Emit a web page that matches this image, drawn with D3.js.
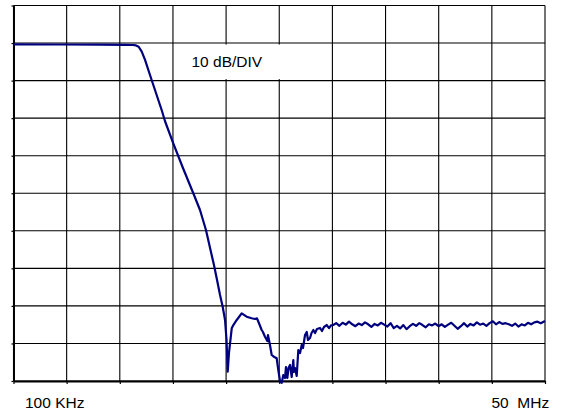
<!DOCTYPE html>
<html><head><meta charset="utf-8">
<script src="https://cdn.jsdelivr.net/npm/d3@7"></script>
<style>body{margin:0;background:#fff}svg{display:block}text{font-family:"Liberation Sans",Arial,sans-serif;white-space:pre}</style>
</head><body><svg id="c" width="562" height="414"></svg>
<script>
// Frequency grid (MHz), 10 divisions from 100 kHz to 50 MHz
const freqTicks = [0.1, 5.09, 10.08, 15.07, 20.06, 25.05, 30.04, 35.03, 40.02, 45.01, 50];
// Level grid (dB), 10 dB/DIV
const dbTicks = [-90, -80, -70, -60, -50, -40, -30, -20, -10, 0, 10];
const xLabels = ["100 KHz", "50  MHz"];
const scaleNote = "10 dB/DIV";

// Trace: passband, roll-off and stopband region
const freqA = [0.1, 4.47, 8.22, 10.57, 11.32, 11.60, 11.85, 12.14, 12.45, 13.07, 14.01, 14.32, 15.10, 16.01, 16.98, 17.61, 18.17, 18.64, 18.92, 19.21, 19.49, 19.74, 19.96, 20.10, 20.21, 20.33, 20.59, 20.74, 21.06, 21.52, 21.99, 22.46, 22.77, 22.96, 23.10, 23.40, 23.52, 23.71, 23.93, 23.99, 24.18, 24.34, 24.59, 24.81, 24.96, 25.12, 25.28, 25.43, 25.59, 25.68, 25.81, 25.92, 26.06, 26.22, 26.37, 26.43, 26.53, 26.69, 26.84, 27.00, 27.16, 27.28, 27.47, 27.63, 27.75, 27.94, 28.08, 28.25, 28.41, 28.59, 28.88, 29.06, 29.25, 29.50, 29.72, 29.91, 30.12];
const dbA = [-0.33, -0.39, -0.41, -0.47, -0.52, -0.64, -0.98, -2.30, -4.50, -9.84, -17.83, -20.76, -26.70, -33.28, -40.01, -44.46, -49.79, -55.65, -59.11, -63.10, -67.10, -70.21, -73.75, -79.08, -87.52, -82.54, -75.96, -75.09, -73.75, -71.97, -72.88, -73.30, -73.49, -73.30, -74.29, -76.42, -76.95, -78.20, -79.35, -77.75, -80.41, -83.07, -83.61, -83.95, -87.07, -90.0, -90.5, -88.40, -89.20, -86.27, -89.20, -86.54, -85.73, -88.93, -84.41, -87.60, -86.54, -88.67, -81.74, -82.54, -80.41, -81.21, -77.75, -76.95, -79.08, -78.55, -77.21, -76.42, -77.21, -76.15, -75.88, -76.68, -75.62, -75.09, -75.90, -75.20, -75.09];
// Trace: noise floor up to 50 MHz
const freqB = [30.4, 30.7, 31.0, 31.3, 31.6, 31.9, 32.2, 32.5, 32.8, 33.1, 33.4, 33.7, 34.0, 34.3, 34.6, 34.9, 35.2, 35.5, 35.8, 36.1, 36.4, 36.7, 37.0, 37.3, 37.6, 37.9, 38.2, 38.5, 38.8, 39.1, 39.4, 39.7, 40.0, 40.3, 40.6, 40.9, 41.2, 41.5, 41.8, 42.1, 42.4, 42.7, 43.0, 43.3, 43.6, 43.9, 44.2, 44.5, 44.8, 45.1, 45.4, 45.7, 46.0, 46.3, 46.6, 46.9, 47.2, 47.5, 47.8, 48.1, 48.4, 48.7, 49.0, 49.3, 49.6, 50.0];
const dbB = [-74.6, -75.3, -74.5, -75.0, -74.2, -74.9, -75.4, -74.7, -75.1, -74.4,
  -74.9, -75.6, -74.8, -75.2, -74.5, -75.0, -75.5, -74.6, -75.9, -75.3,
  -76.0, -75.1, -76.2, -75.4, -74.8, -75.3, -74.6, -75.1, -75.7, -74.9,
  -75.2, -74.7, -75.4, -74.9, -75.6, -75.0, -74.5, -75.3, -76.1, -75.4,
  -74.6, -75.5, -74.8, -75.2, -74.4, -75.0, -74.7, -75.3, -74.6, -74.1,
  -74.9, -74.3, -74.8, -74.6, -74.9, -75.3, -74.7, -75.5, -74.9, -75.2,
  -74.5, -74.9, -74.4, -74.2, -74.6, -74.0];

const svg = d3.select("#c");
const x = d3.scaleLinear().domain([0.1, 50]).range([13.5, 545]);
const y = d3.scaleLinear().domain([-90, 10]).range([381, 5.5]);

// grid
const g = svg.append("g");
g.selectAll("line.v").data(freqTicks).join("line").attr("class","v")
  .attr("x1", d => x(d)).attr("x2", d => x(d)).attr("y1", y(10)).attr("y2", y(-90))
  .attr("stroke", "#000").attr("stroke-width", 1.1);
g.selectAll("line.h").data(dbTicks).join("line").attr("class","h")
  .attr("x1", x(0.1)).attr("x2", x(50)).attr("y1", d => y(d)).attr("y2", d => y(d))
  .attr("stroke", "#000").attr("stroke-width", 1.1);

// axes with small tick marks
const xAxis = svg.append("g").attr("transform", `translate(0,${y(-90)})`)
  .call(d3.axisBottom(x).tickValues(freqTicks).tickSize(3).tickSizeOuter(0).tickFormat(""));
const yAxis = svg.append("g").attr("transform", `translate(${x(0.1)},0)`)
  .call(d3.axisLeft(y).tickValues(dbTicks).tickSize(2).tickSizeOuter(0).tickFormat(""));
[xAxis, yAxis].forEach(a => { a.select(".domain").attr("stroke", "#000").attr("stroke-width", 2); a.selectAll(".tick line").attr("stroke","#000").attr("stroke-width",1.2); });

// scale note with white box
svg.append("rect").attr("x", x(19.2)).attr("y", y(-0.4)).attr("width", 76).attr("height", y(-9.6) - y(-0.4)).attr("fill", "#fff");
svg.append("text").attr("x", 191.5).attr("y", 66.5).attr("font-size", 15.5).attr("fill", "#000").text(scaleNote);

// trace
const pts = freqA.map((f, i) => [f, dbA[i]]).concat(freqB.map((f, i) => [f, dbB[i]]));
svg.append("path").datum(pts)
  .attr("d", d3.line().x(d => x(d[0])).y(d => y(d[1])))
  .attr("fill", "none").attr("stroke", "#00007f").attr("stroke-width", 2.2).attr("stroke-linejoin", "round");

// frequency labels
svg.append("text").attr("x", 25).attr("y", 408).attr("font-size", 15.5).attr("fill", "#000").text(xLabels[0]);
svg.append("text").attr("x", 491.5).attr("y", 408).attr("font-size", 15.5).attr("fill", "#000").text(xLabels[1]);
</script></body></html>
